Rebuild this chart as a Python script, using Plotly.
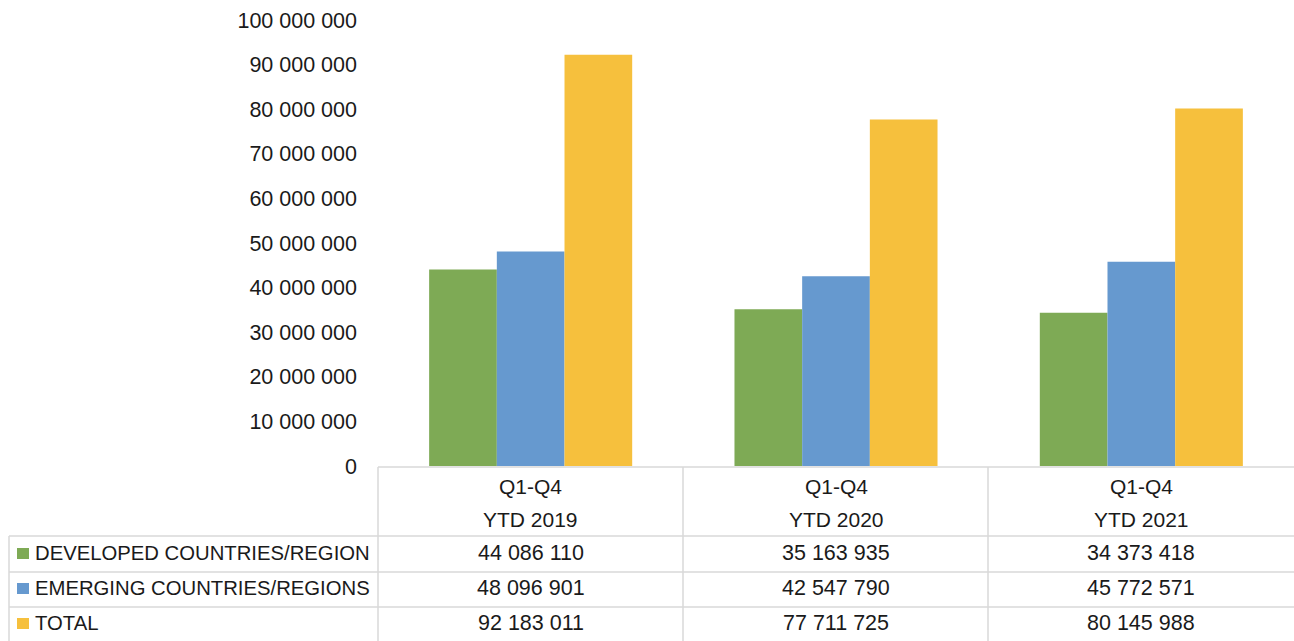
import plotly.graph_objects as go

# Figures of foreign direct investment inflows, full-year Q1-Q4
periods = ["Q1-Q4<br>YTD 2019", "Q1-Q4<br>YTD 2020", "Q1-Q4<br>YTD 2021"]
series_names = ["DEVELOPED COUNTRIES/REGION", "EMERGING COUNTRIES/REGIONS", "TOTAL"]
developed = [44086110, 35163935, 34373418]
emerging = [48096901, 42547790, 45772571]
total = [92183011, 77711725, 80145988]
y_ticks = [0, 10_000_000, 20_000_000, 30_000_000, 40_000_000, 50_000_000,
           60_000_000, 70_000_000, 80_000_000, 90_000_000, 100_000_000]

colors = ["#7eaa55", "#6699cf", "#f6c03d"]
values = [developed, emerging, total]

W, H = 1294, 641
FONT = "Liberation Sans, Arial, Helvetica, sans-serif"
TEXT = "#1a1a1a"
GRID = "#d9d9d9"


def px(x):
    return x / W


def py(y):
    return 1 - y / H


fig = go.Figure()
for name, vals, col in zip(series_names, values, colors):
    fig.add_trace(go.Bar(x=periods, y=vals, name=name, marker_color=col,
                         marker_line_width=0))

# Chart data table under the plot area
col_edges = [378, 683, 988, 1294]
row_edges = [467, 536, 572, 607, 641]
shapes = []
line = dict(color=GRID, width=1.5)
shapes.append(dict(type="line", xref="paper", yref="paper",
                   x0=px(378), x1=px(1294), y0=py(467), y1=py(467), line=line))
for yy in row_edges[1:4]:
    shapes.append(dict(type="line", xref="paper", yref="paper",
                       x0=px(9), x1=px(1294), y0=py(yy), y1=py(yy), line=line))
for xx in col_edges[:3]:
    shapes.append(dict(type="line", xref="paper", yref="paper",
                       x0=px(xx), x1=px(xx), y0=py(467), y1=py(641), line=line))
shapes.append(dict(type="line", xref="paper", yref="paper",
                   x0=px(9), x1=px(9), y0=py(536), y1=py(641), line=line))

annotations = []
row_centers = [553, 588, 623]
for name, vals, col, yc in zip(series_names, values, colors, row_centers):
    # legend key square
    shapes.append(dict(type="rect", xref="paper", yref="paper",
                       x0=px(17), x1=px(29), y0=py(yc - 5), y1=py(yc + 6),
                       fillcolor=col, line_width=0))
    annotations.append(dict(text=name, xref="paper", yref="paper",
                            x=px(33), y=py(yc), xanchor="left", yanchor="middle",
                            showarrow=False,
                            font=dict(family=FONT, size=20.3, color=TEXT)))
    for p, v in zip(periods, vals):
        annotations.append(dict(text=f"{v:,}".replace(",", " "),
                                xref="x", yref="paper", x=p, y=py(yc),
                                xanchor="center", yanchor="middle",
                                showarrow=False,
                                font=dict(family=FONT, size=21.5, color=TEXT)))

# header cells with the period labels
for p in periods:
    top, bottom = p.split("<br>")
    annotations.append(dict(text=top, xref="x", yref="paper", x=p, y=py(486),
                            xanchor="center", yanchor="middle", showarrow=False,
                            font=dict(family=FONT, size=21, color=TEXT)))
    annotations.append(dict(text=bottom, xref="x", yref="paper", x=p, y=py(519),
                            xanchor="center", yanchor="middle", showarrow=False,
                            font=dict(family=FONT, size=21, color=TEXT)))

fig.update_layout(
    template="none",
    width=W, height=H, autosize=False,
    margin=dict(l=0, r=0, t=0, b=0, pad=0),
    paper_bgcolor="white", plot_bgcolor="white",
    separators=". ",
    barmode="group", bargap=0.335, bargroupgap=0,
    showlegend=False,
    shapes=shapes, annotations=annotations,
    font=dict(family=FONT, size=21, color=TEXT),
    xaxis=dict(domain=[px(378), px(1294)], range=[-0.5, 2.5], automargin=False,
               showticklabels=False, showline=False, showgrid=False,
               zeroline=False, fixedrange=True),
    yaxis=dict(domain=[py(466), py(20)], range=[0, 100_000_000], automargin=False,
               tickvals=y_ticks, tickformat=",d",
               showline=False, showgrid=False, zeroline=False,
               ticks="", ticklabelstandoff=20,
               tickfont=dict(family=FONT, size=21.5, color=TEXT)),
)

fig.write_html("out.html")
